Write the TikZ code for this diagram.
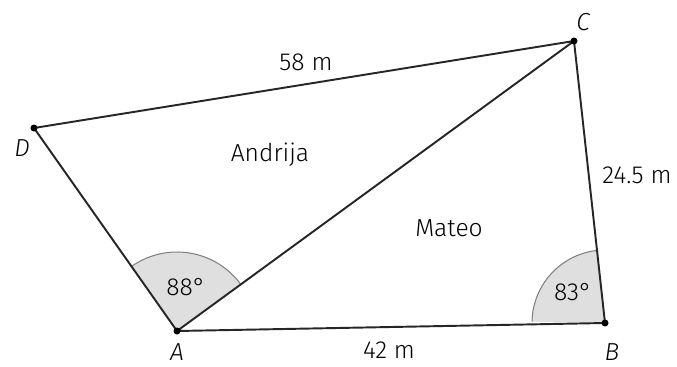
\documentclass[tikz,border=0pt]{standalone}
\usepackage{fontspec}
\setmainfont{Fira Sans Light}
\usepackage{tikz}
\usetikzlibrary{positioning,calc}

\begin{document}
\begin{tikzpicture}[font=\fontsize{14}{16}\selectfont]
    \useasboundingbox (0,0) rectangle (13.54,7.32);
    % Points
    \coordinate (A) at (3.54,0.70);
    \coordinate (B) at (12.10,0.86);
    \coordinate (C) at (11.48,6.50);
    \coordinate (D) at (0.68,4.76);

    % Angles
    \fill [gray!25] (A) -- ++(36.1:1.58) arc (36.1:125.2:1.58) -- cycle;
    \draw [gray, line width=0.6pt] ($(A)+(36.1:1.58)$) arc (36.1:125.2:1.58);
    \fill [gray!25] (B) -- ++(96.3:1.46) arc (96.3:178.9:1.46) -- cycle;
    \draw [gray, line width=0.6pt] ($(B)+(96.3:1.46)$) arc (96.3:178.9:1.46);

    % Sides
    \draw [line width=1.1pt, black!85] (A) -- (B) -- (C) -- (D) -- (A) -- (C);
    \foreach \p in {A,B,C,D} \fill (\p) circle (0.07);

    % Vertex labels
    \node (lA) at (3.54,0.28) {\itshape A};
    \node (lB) at (12.24,0.28) {\itshape B};
    \node (lC) at (11.66,6.88) {\itshape C};
    \node (lD) at (0.44,4.36) {\itshape D};

    % Lengths and names
    \node (dc) at (6.12,6.08) {58 m};
    \node (cb) at (12.74,3.82) {24.5 m};
    \node (ab) at (7.78,0.32) {42 m};
    \node (andrija) at (5.40,4.22) {Andrija};
    \node (mateo) at (8.98,2.76) {Mateo};
    \node (angA) at (3.72,1.58) {88°};
    \node (angB) at (11.46,1.48) {83°};
\end{tikzpicture}
\end{document}
